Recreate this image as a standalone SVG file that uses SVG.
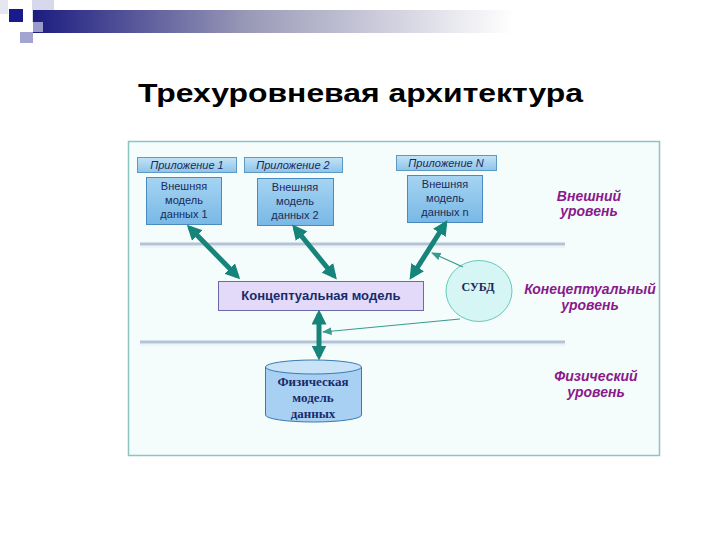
<svg xmlns="http://www.w3.org/2000/svg" width="720" height="540" viewBox="0 0 720 540">
<defs>
<linearGradient id="bar" x1="0" y1="0" x2="1" y2="0">
<stop offset="0" stop-color="#1c1c80"/>
<stop offset="0.45" stop-color="#9a9ab8"/>
<stop offset="1" stop-color="#ffffff"/>
</linearGradient>
<linearGradient id="app" x1="0" y1="0" x2="0" y2="1">
<stop offset="0" stop-color="#c4e2f6"/>
<stop offset="1" stop-color="#8cc4ea"/>
</linearGradient>
<linearGradient id="dm" x1="0" y1="0" x2="0" y2="1">
<stop offset="0" stop-color="#a6d4f2"/>
<stop offset="1" stop-color="#78b8e6"/>
</linearGradient>
<marker id="ah" viewBox="0 0 10 10" refX="7" refY="5" markerWidth="3" markerHeight="3" orient="auto-start-reverse">
<path d="M0,0 L10,5 L0,10 z" fill="#16847a"/>
</marker>
<marker id="ahs" viewBox="0 0 10 10" refX="9" refY="5" markerWidth="8" markerHeight="8" orient="auto">
<path d="M0,1 L10,5 L0,9 z" fill="#3a9a90"/>
</marker>
<style>
.app{fill:url(#app);stroke:#5a9ac4;stroke-width:1}
.dm{fill:url(#dm);stroke:#4a8ac0;stroke-width:1}
.at{font-family:"Liberation Sans",Arial,sans-serif;font-size:11px;font-style:italic;fill:#1a2a5a;text-anchor:middle}
.dt{font-family:"Liberation Sans",Arial,sans-serif;font-size:11px;fill:#1a2a5a;text-anchor:middle}
.lvl{font-family:"Liberation Sans",Arial,sans-serif;font-size:14px;font-style:italic;font-weight:bold;fill:#8a1a8c;text-anchor:middle}
.big{stroke:#16847a;stroke-width:5;fill:none;marker-start:url(#ah);marker-end:url(#ah)}
.thin{stroke:#3a9a90;stroke-width:1.2;fill:none;marker-end:url(#ahs)}
.hl{stroke:#b4c4d6;stroke-width:3;fill:none}
.hl2{stroke:#e4ecf2;stroke-width:1;fill:none}
</style>
</defs>
<rect width="720" height="540" fill="#ffffff"/>
<g id="decor">
<rect x="0" y="0" width="8" height="14" fill="#e6e6f2"/>
<rect x="32" y="0" width="22" height="22" fill="#d8d8ec"/>
<rect x="33" y="10" width="480" height="23" fill="url(#bar)"/>
<rect x="9" y="9" width="14" height="13" fill="#1a1a8c"/>
<rect x="33" y="22" width="10" height="10" fill="#9a9acc"/>
<rect x="20" y="32" width="13" height="11" fill="#a4a4d2"/>
</g>
<text x="138" y="102" font-family="'Liberation Sans',Arial,sans-serif" font-size="26" font-weight="bold" fill="#000" textLength="445" lengthAdjust="spacingAndGlyphs">Трехуровневая архитектура</text>
<rect id="frame" x="128.5" y="141.5" width="531" height="314" fill="#f4fcfc" stroke="#8cc4c0" stroke-width="1.5"/>
<g id="levels">
<line class="hl" x1="140" y1="244" x2="565" y2="244"/>
<line class="hl2" x1="140" y1="247" x2="565" y2="247"/>
<line class="hl" x1="140" y1="342" x2="565" y2="342"/>
<line class="hl2" x1="140" y1="345" x2="565" y2="345"/>
</g>
<g id="app1">
<rect class="app" x="137.5" y="157.5" width="99" height="15"/>
<text class="at" x="187" y="169">Приложение 1</text>
</g>
<g id="dm1">
<rect class="dm" x="146.5" y="177.5" width="75" height="47"/>
<text class="dt" x="184" y="190">Внешняя</text>
<text class="dt" x="184" y="204">модель</text>
<text class="dt" x="184" y="218">данных 1</text>
</g>
<g id="app2">
<rect class="app" x="244.5" y="157.5" width="98" height="15"/>
<text class="at" x="293" y="169">Приложение 2</text>
</g>
<g id="dm2">
<rect class="dm" x="257.5" y="178.5" width="76" height="47"/>
<text class="dt" x="295" y="191">Внешняя</text>
<text class="dt" x="295" y="205">модель</text>
<text class="dt" x="295" y="219">данных 2</text>
</g>
<g id="appN">
<rect class="app" x="396.5" y="155.5" width="100" height="15"/>
<text class="at" x="446" y="167">Приложение N</text>
</g>
<g id="dmN">
<rect class="dm" x="407.5" y="175.5" width="75" height="47"/>
<text class="dt" x="445" y="188">Внешняя</text>
<text class="dt" x="445" y="202">модель</text>
<text class="dt" x="445" y="216">данных n</text>
</g>
<g id="concept">
<rect x="218.5" y="281.5" width="205" height="29" fill="#e2daf8" stroke="#6a6aaa" stroke-width="1"/>
<text x="321" y="300" font-family="'Liberation Sans',Arial,sans-serif" font-size="13" font-weight="bold" fill="#1a2a6a" text-anchor="middle">Концептуальная модель</text>
</g>
<g id="dbms">
<ellipse cx="479" cy="291" rx="33" ry="30.5" fill="#d6f6f6" stroke="#6ac8b8" stroke-width="1"/>
<text x="478" y="291" font-family="'Liberation Serif','Times New Roman',serif" font-size="12" font-weight="bold" fill="#1a2a5a" text-anchor="middle">СУБД</text>
</g>
<g id="physical">
<path d="M265.5,367 L265.5,415 A48,7 0 0 0 361.5,415 L361.5,367" fill="#a8d0f2" stroke="#3a7ab0" stroke-width="1"/>
<ellipse cx="313.5" cy="367" rx="48" ry="7" fill="#c8e2f8" stroke="#3a7ab0" stroke-width="1"/>
<text x="313" y="386" font-family="'Liberation Serif','Times New Roman',serif" font-size="13" font-weight="bold" fill="#1a2a6a" text-anchor="middle">Физическая</text>
<text x="313" y="402" font-family="'Liberation Serif','Times New Roman',serif" font-size="13" font-weight="bold" fill="#1a2a6a" text-anchor="middle">модель</text>
<text x="313" y="418" font-family="'Liberation Serif','Times New Roman',serif" font-size="13" font-weight="bold" fill="#1a2a6a" text-anchor="middle">данных</text>
</g>
<g id="labels">
<text class="lvl" x="589" y="201">Внешний</text>
<text class="lvl" x="589" y="216">уровень</text>
<text class="lvl" x="590" y="294">Конецептуальный</text>
<text class="lvl" x="590" y="310">уровень</text>
<text class="lvl" x="596" y="381">Физический</text>
<text class="lvl" x="596" y="397">уровень</text>
</g>
<g id="connectors">
<line class="big" x1="190" y1="228" x2="237" y2="276"/>
<line class="big" x1="295" y1="228" x2="334" y2="276"/>
<line class="big" x1="445" y1="224" x2="412" y2="276"/>
<line class="big" x1="319" y1="314" x2="319" y2="356"/>
<line class="thin" x1="463" y1="267" x2="432" y2="253"/>
<line class="thin" x1="460" y1="319" x2="323" y2="332"/>
</g>
</svg>
